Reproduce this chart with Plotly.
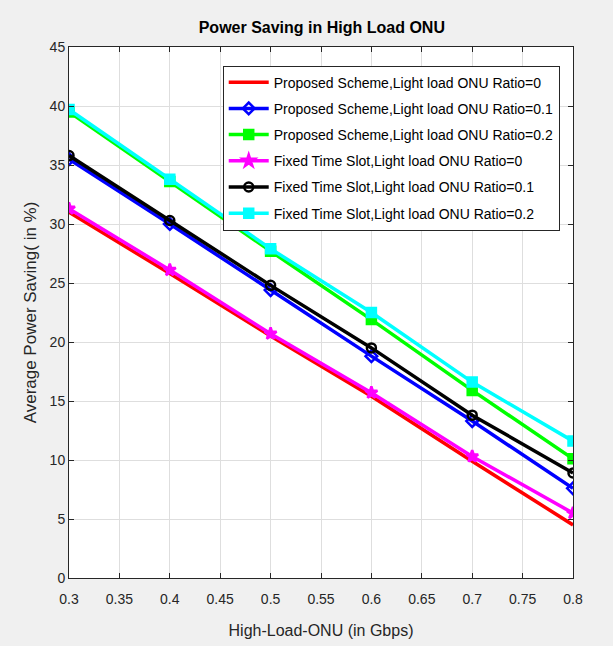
import plotly.graph_objects as go

# High-load ONU traffic (Gbps)
load_gbps = [0.3, 0.4, 0.5, 0.6, 0.7, 0.8]

# Average power saving (%) per scheme / light-load ONU ratio
proposed_r0 = [31.0, 25.8, 20.5, 15.4, 9.9, 4.5]
proposed_r01 = [35.5, 30.0, 24.4, 18.8, 13.3, 7.6]
proposed_r02 = [39.5, 33.6, 27.7, 21.9, 15.9, 10.1]
fixed_r0 = [31.3, 26.1, 20.7, 15.7, 10.3, 5.5]
fixed_r01 = [35.8, 30.3, 24.8, 19.5, 13.8, 8.9]
fixed_r02 = [39.7, 33.8, 27.9, 22.5, 16.6, 11.6]

x_ticks = [0.3, 0.35, 0.4, 0.45, 0.5, 0.55, 0.6, 0.65, 0.7, 0.75, 0.8]
x_tick_text = ["0.3", "0.35", "0.4", "0.45", "0.5", "0.55", "0.6", "0.65", "0.7", "0.75", "0.8"]

series = [
    ("Proposed Scheme,Light load ONU Ratio=0", proposed_r0, "#ff0000", None),
    ("Proposed Scheme,Light load ONU Ratio=0.1", proposed_r01, "#0000ff", "diamond-open"),
    ("Proposed Scheme,Light load ONU Ratio=0.2", proposed_r02, "#00ff00", "square"),
    ("Fixed Time Slot,Light load ONU Ratio=0", fixed_r0, "#ff00ff", "star"),
    ("Fixed Time Slot,Light load ONU Ratio=0.1", fixed_r01, "#000000", "circle-open"),
    ("Fixed Time Slot,Light load ONU Ratio=0.2", fixed_r02, "#00ffff", "square"),
]

FONT = "Liberation Sans, Arial, sans-serif"

fig = go.Figure()
for i, (name, vals, color, symbol) in enumerate(series):
    if symbol is None:
        fig.add_trace(go.Scatter(x=load_gbps, y=vals, name=name, mode="lines",
                                 legendgroup=f"g{i}",
                                 line=dict(color=color, width=3.5)))
    else:
        fig.add_trace(go.Scatter(
            x=load_gbps, y=vals, name=name, mode="lines+markers",
            legendgroup=f"g{i}",
            line=dict(color=color, width=3.5),
            marker=dict(symbol=symbol, size=9, color=color,
                        line=dict(color=color, width=2.5)),
        ))

axis_common = dict(
    showline=True, linecolor="#262626", linewidth=1, mirror="ticks",
    ticks="inside", ticklen=5, tickcolor="#262626",
    showgrid=True, gridcolor="#dedede", gridwidth=1, zeroline=False,
    automargin=False,
    tickfont=dict(family=FONT, size=14, color="#262626"),
)

fig.update_xaxes(range=[0.3, 0.8], tickvals=x_ticks, ticktext=x_tick_text,
                 ticklabelstandoff=8,
                 title=dict(text="High-Load-ONU (in Gbps)", standoff=19,
                            font=dict(family=FONT, size=16, color="#262626")),
                 **axis_common)
fig.update_yaxes(range=[0, 45], dtick=5,
                 title=dict(text="Average Power Saving( in %)", standoff=8,
                            font=dict(family=FONT, size=17, color="#262626")),
                 **axis_common)

fig.update_layout(
    width=613, height=646,
    margin=dict(l=69, r=40, t=47, b=68),
    paper_bgcolor="#f0f0f0", plot_bgcolor="#ffffff",
    title=dict(text="<b>Power Saving in High Load ONU</b>", x=0.525, xanchor="center",
               y=0.958, yanchor="middle",
               font=dict(family=FONT, size=16, color="#000000")),
    legend=dict(x=0.305, y=0.965, xanchor="left", yanchor="top",
                bgcolor="#ffffff", bordercolor="#262626", borderwidth=1,
                font=dict(family=FONT, size=14, color="#000000"),
                tracegroupgap=5, itemwidth=40),
    showlegend=True,
)

fig.write_html("out.html")
